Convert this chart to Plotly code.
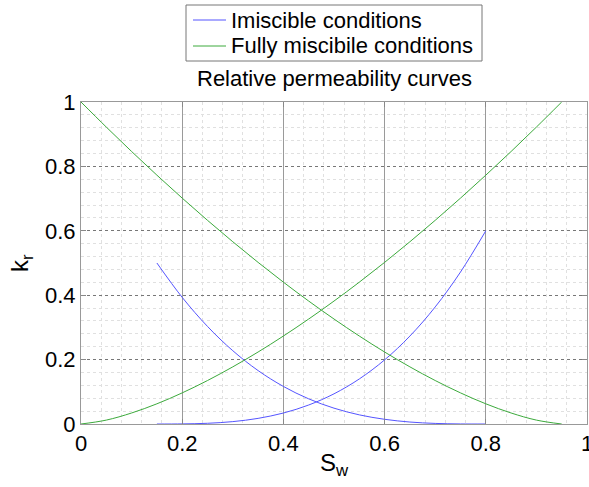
import plotly.graph_objects as go

# Water saturation samples
sw_imm = [0.15, 0.20, 0.25, 0.30, 0.35, 0.40, 0.45, 0.50, 0.55, 0.60, 0.65, 0.70, 0.75, 0.80]
krw_imm = [0.0, 0.0003, 0.0022, 0.0074, 0.0175, 0.0341, 0.0590, 0.0937, 0.1399, 0.1991, 0.2731, 0.3635, 0.4720, 0.60]
kro_imm = [0.50, 0.3933, 0.3030, 0.2276, 0.1659, 0.1166, 0.0781, 0.0492, 0.0284, 0.0146, 0.0061, 0.0018, 0.0002, 0.0]

sw_mis = [0.0, 0.05, 0.10, 0.15, 0.20, 0.25, 0.30, 0.35, 0.40, 0.45, 0.50,
          0.55, 0.60, 0.65, 0.70, 0.75, 0.80, 0.85, 0.90, 0.95]
krw_mis = [0.0, 0.0121, 0.0342, 0.0627, 0.0966, 0.1350, 0.1775, 0.2236, 0.2732, 0.3260, 0.3818,
           0.4405, 0.5019, 0.5660, 0.6325, 0.7015, 0.7728, 0.8463, 0.9221, 1.0]
kro_mis = [1.0, 0.9221, 0.8463, 0.7728, 0.7015, 0.6325, 0.5660, 0.5019, 0.4405, 0.3818, 0.3260,
           0.2732, 0.2236, 0.1775, 0.1350, 0.0966, 0.0627, 0.0342, 0.0121, 0.0]

x_ticks = [0, 0.2, 0.4, 0.6, 0.8, 1]
x_tick_labels = ["0", "0.2", "0.4", "0.6", "0.8", "1"]
y_ticks = [0, 0.2, 0.4, 0.6, 0.8, 1]
y_tick_labels = ["0", "0.2", "0.4", "0.6", "0.8", "1"]
legend_names = ["Imiscible conditions", "Fully miscibile conditions"]

BLUE = "rgb(85,85,255)"
GREEN = "rgb(60,170,60)"
FONT = "Liberation Sans, Arial, sans-serif"

W, H = 589, 487
ML, MR, MT, MB = 81, 2, 102, 63
PW, PH = W - ML - MR, H - MT - MB


def px(x):
    return (x - ML) / PW


def py(y):
    return (H - MB - y) / PH


fig = go.Figure()
fig.add_trace(go.Scatter(x=sw_imm, y=krw_imm, mode="lines", line=dict(color=BLUE, width=1, shape="spline"),
                         name=legend_names[0], showlegend=False))
fig.add_trace(go.Scatter(x=sw_imm, y=kro_imm, mode="lines", line=dict(color=BLUE, width=1, shape="spline"),
                         name=legend_names[0], showlegend=False))
fig.add_trace(go.Scatter(x=sw_mis, y=krw_mis, mode="lines", line=dict(color=GREEN, width=1, shape="spline"),
                         name=legend_names[1], showlegend=False))
fig.add_trace(go.Scatter(x=sw_mis, y=kro_mis, mode="lines", line=dict(color=GREEN, width=1, shape="spline"),
                         name=legend_names[1], showlegend=False))

axis_common = dict(
    range=[0, 1], showline=True, linecolor="#999999", linewidth=1, mirror="ticks",
    ticks="inside", ticklen=5, tickcolor="#888888", automargin=False,
    tickfont=dict(family=FONT, size=22, color="black"), ticklabeloverflow="allow",
    zeroline=False, gridwidth=1,
    minor=dict(dtick=0.04, showgrid=True, gridcolor="#e0e0e0", griddash="dot", ticks=""),
)

# Legend box (drawn manually to match the compact MATLAB legend)
shapes = [
    dict(type="rect", xref="paper", yref="paper", x0=px(186), x1=px(482), y0=py(61), y1=py(5),
         line=dict(color="#777777", width=1), fillcolor="white", layer="above"),
    dict(type="line", xref="paper", yref="paper", x0=px(193), x1=px(226), y0=py(20), y1=py(20),
         line=dict(color=BLUE, width=1)),
    dict(type="line", xref="paper", yref="paper", x0=px(193), x1=px(226), y0=py(46), y1=py(46),
         line=dict(color=GREEN, width=1)),
]

annotations = [
    dict(text=legend_names[0], x=px(229), y=py(20), xref="paper", yref="paper",
         xanchor="left", yanchor="middle", showarrow=False, font=dict(family=FONT, size=22)),
    dict(text=legend_names[1], x=px(229), y=py(46), xref="paper", yref="paper",
         xanchor="left", yanchor="middle", showarrow=False, font=dict(family=FONT, size=22)),
    dict(text="Relative permeability curves", x=0.5, y=py(78), xref="paper", yref="paper",
         xanchor="center", yanchor="middle", showarrow=False, font=dict(family=FONT, size=22)),
    dict(text="S<sub>w</sub>", x=0.5, y=0, xref="paper", yref="paper",
         xanchor="center", yanchor="middle", yshift=-40, showarrow=False,
         font=dict(family=FONT, size=24)),
    dict(text="k<sub>r</sub>", x=0, y=0.5, xref="paper", yref="paper", textangle=-90,
         xanchor="center", yanchor="middle", xshift=-60, showarrow=False,
         font=dict(family=FONT, size=24)),
]

fig.update_layout(
    width=W, height=H,
    margin=dict(l=ML, r=MR, t=MT, b=MB),
    paper_bgcolor="white", plot_bgcolor="white",
    font=dict(family=FONT, color="black"),
    showlegend=False,
    xaxis=dict(**axis_common, tickmode="array", tickvals=x_ticks, ticktext=x_tick_labels,
               griddash="solid", gridcolor="#9a9a9a"),
    yaxis=dict(**axis_common, tickmode="array", tickvals=y_ticks, ticktext=y_tick_labels,
               griddash="dot", gridcolor="#777777"),
    shapes=shapes,
    annotations=annotations,
)

fig.write_html("out.html", config={"displayModeBar": False},
               post_script="document.body.style.margin='0';document.body.style.overflow='hidden';")
